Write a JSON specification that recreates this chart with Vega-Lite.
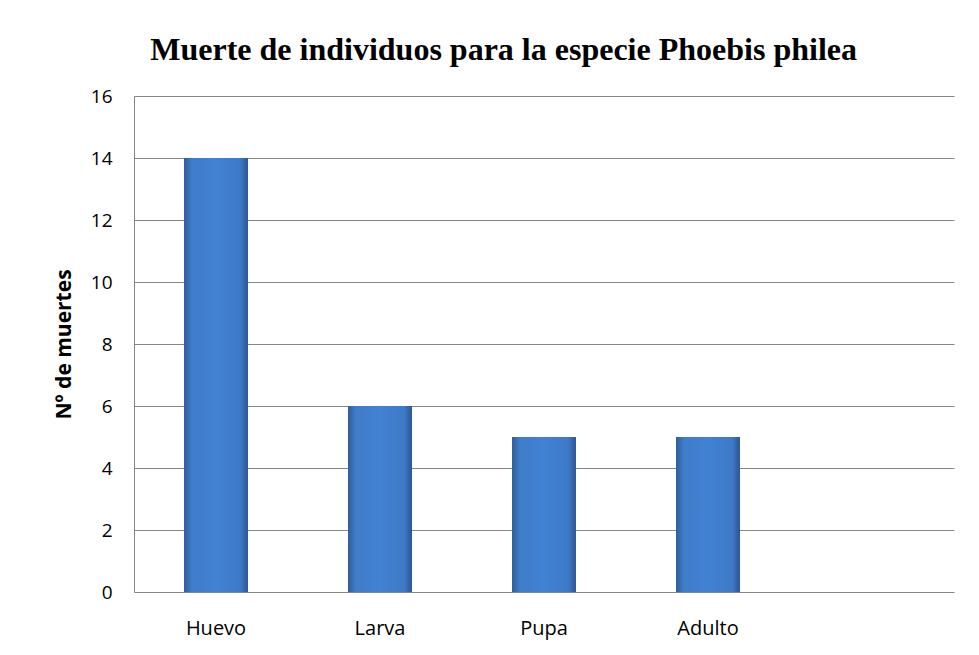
{
  "$schema": "https://vega.github.io/schema/vega-lite/v6.json",
  "width": 820,
  "height": 496,
  "autosize": {"type": "none"},
  "padding": {"left": 134, "top": 96, "right": 25, "bottom": 63},
  "background": "white",
  "title": {
    "text": "Muerte de individuos para la especie Phoebis philea",
    "font": "Liberation Serif",
    "fontSize": 32,
    "fontWeight": "bold",
    "color": "black",
    "anchor": "middle",
    "frame": "bounds",
    "offset": 20
  },
  "data": {
    "values": [
      {"etapa": "Huevo", "muertes": 14},
      {"etapa": "Larva", "muertes": 6},
      {"etapa": "Pupa", "muertes": 5},
      {"etapa": "Adulto", "muertes": 5}
    ]
  },
  "mark": {
    "type": "bar",
    "color": {
      "x1": 0, "y1": 0, "x2": 1, "y2": 0,
      "gradient": "linear",
      "stops": [
        {"offset": 0, "color": "#2f5c98"},
        {"offset": 0.12, "color": "#3f7cc9"},
        {"offset": 0.5, "color": "#4282d3"},
        {"offset": 0.88, "color": "#3d79c6"},
        {"offset": 1, "color": "#2b5590"}
      ]
    }
  },
  "encoding": {
    "x": {
      "field": "etapa",
      "type": "nominal",
      "sort": null,
      "scale": {"domain": ["Huevo", "Larva", "Pupa", "Adulto", ""], "paddingInner": 0.61, "paddingOuter": 0.305},
      "axis": {
        "title": null,
        "labelAngle": 0,
        "labelFont": "Open Sans",
        "labelFontSize": 20,
        "labelColor": "black",
        "labelPadding": 26,
        "ticks": false,
        "domain": false,
        "grid": false
      }
    },
    "y": {
      "field": "muertes",
      "type": "quantitative",
      "scale": {"domain": [0, 16]},
      "axis": {
        "title": "Nº de muertes",
        "titleFont": "Open Sans",
        "titleFontSize": 21,
        "titleFontWeight": "bold",
        "titleColor": "black",
        "titlePadding": 16,
        "values": [0, 2, 4, 6, 8, 10, 12, 14, 16],
        "labelFont": "Open Sans",
        "labelFontSize": 19,
        "labelColor": "black",
        "labelPadding": 22,
        "ticks": false,
        "domain": true,
        "domainColor": "#868686",
        "grid": true,
        "gridColor": "#868686",
        "gridWidth": 1
      }
    }
  },
  "config": {
    "view": {"stroke": null}
  }
}
